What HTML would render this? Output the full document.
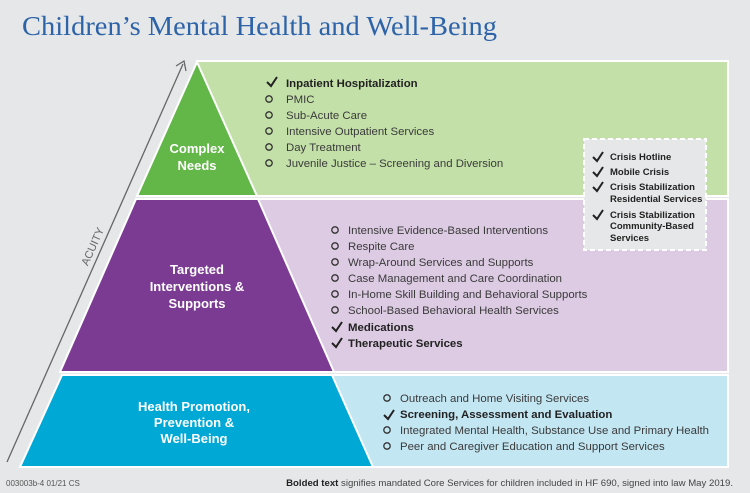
<!DOCTYPE html>
<html><head><meta charset="utf-8"><style>
html,body{margin:0;padding:0;background:#e6e7e8;}
svg{display:block;font-family:"Liberation Sans",sans-serif;}
.it{font-size:11.4px;fill:#3a3a3a;}
.b{font-weight:bold;fill:#222;}
.lab{font-size:13px;font-weight:bold;fill:#fff;text-anchor:middle;}
.cr{font-size:9.5px;font-weight:bold;fill:#222;}
</style></head><body>
<svg width="750" height="493" viewBox="0 0 750 493">
<rect width="750" height="493" fill="#e6e7e8"/>
<text x="22" y="35" font-family="Liberation Serif,serif" font-size="27" fill="#2d63a8" textLength="475" lengthAdjust="spacingAndGlyphs">Children’s Mental Health and Well-Being</text>
<rect x="197" y="61" width="531" height="135" fill="#c4e0a9" stroke="#fff" stroke-width="2"/>
<rect x="256" y="199" width="472" height="173" fill="#dccbe3" stroke="#fff" stroke-width="2"/>
<rect x="330" y="375" width="398" height="92" fill="#c3e6f3" stroke="#fff" stroke-width="2"/>
<polygon points="197,62 257,196 137,196" fill="#63b648" stroke="#fff" stroke-width="2"/>
<polygon points="136,199 258,199 334,372 60,372" fill="#7b3b93" stroke="#fff" stroke-width="2"/>
<polygon points="62,375 332,375 373,467 20,467" fill="#00a8d6" stroke="#fff" stroke-width="2"/>
<line x1="7" y1="462" x2="183" y2="64" stroke="#666" stroke-width="1.3"/>
<polyline points="176,66 184,61 186,71" fill="none" stroke="#666" stroke-width="1.3"/>
<text x="0" y="0" transform="translate(96,248) rotate(-66)" font-size="11" fill="#666" text-anchor="middle">ACUITY</text>
<text class="lab" x="197" y="153">Complex</text>
<text class="lab" x="197" y="170">Needs</text>
<text class="lab" x="197" y="274">Targeted</text>
<text class="lab" x="197" y="291">Interventions &amp;</text>
<text class="lab" x="197" y="308">Supports</text>
<text class="lab" x="194" y="411">Health Promotion,</text>
<text class="lab" x="194" y="427">Prevention &amp;</text>
<text class="lab" x="194" y="443">Well-Being</text>
<defs>
<g id="ck"><polyline points="-5,0 -1,4 5,-5" fill="none" stroke="#222" stroke-width="2"/></g>
<g id="ci"><circle r="3.2" fill="none" stroke="#333" stroke-width="1.3"/></g>
</defs>
<use href="#ck" x="272" y="82"/><text class="it b" x="286" y="87">Inpatient Hospitalization</text>
<use href="#ci" x="269" y="99"/><text class="it" x="286" y="103">PMIC</text>
<use href="#ci" x="269" y="115"/><text class="it" x="286" y="119">Sub-Acute Care</text>
<use href="#ci" x="269" y="131"/><text class="it" x="286" y="135">Intensive Outpatient Services</text>
<use href="#ci" x="269" y="147"/><text class="it" x="286" y="151">Day Treatment</text>
<use href="#ci" x="269" y="163"/><text class="it" x="286" y="167">Juvenile Justice – Screening and Diversion</text>
<rect x="584" y="139" width="122" height="111" fill="#e6e7e8" stroke="#fff" stroke-width="2" stroke-dasharray="5,3"/>
<use href="#ck" x="598" y="157"/><text class="cr" x="610" y="160">Crisis Hotline</text>
<use href="#ck" x="598" y="172"/><text class="cr" x="610" y="175">Mobile Crisis</text>
<use href="#ck" x="598" y="187"/><text class="cr" x="610" y="190">Crisis Stabilization</text>
<text class="cr" x="610" y="202">Residential Services</text>
<use href="#ck" x="598" y="215"/><text class="cr" x="610" y="218">Crisis Stabilization</text>
<text class="cr" x="610" y="229">Community-Based</text>
<text class="cr" x="610" y="241">Services</text>
<use href="#ci" x="335" y="230"/><text class="it" x="348" y="234">Intensive Evidence-Based Interventions</text>
<use href="#ci" x="335" y="246"/><text class="it" x="348" y="250">Respite Care</text>
<use href="#ci" x="335" y="262"/><text class="it" x="348" y="266">Wrap-Around Services and Supports</text>
<use href="#ci" x="335" y="278"/><text class="it" x="348" y="282">Case Management and Care Coordination</text>
<use href="#ci" x="335" y="294"/><text class="it" x="348" y="298">In-Home Skill Building and Behavioral Supports</text>
<use href="#ci" x="335" y="310"/><text class="it" x="348" y="314">School-Based Behavioral Health Services</text>
<use href="#ck" x="337" y="327"/><text class="it b" x="348" y="331">Medications</text>
<use href="#ck" x="337" y="343"/><text class="it b" x="348" y="347">Therapeutic Services</text>
<use href="#ci" x="387" y="398"/><text class="it" x="400" y="402">Outreach and Home Visiting Services</text>
<use href="#ck" x="389" y="415"/><text class="it b" x="400" y="418">Screening, Assessment and Evaluation</text>
<use href="#ci" x="387" y="430"/><text class="it" x="400" y="434">Integrated Mental Health, Substance Use and Primary Health</text>
<use href="#ci" x="387" y="446"/><text class="it" x="400" y="450">Peer and Caregiver Education and Support Services</text>
<text x="6" y="486" font-size="8" fill="#555">003003b-4  01/21  CS</text>
<text x="733" y="486" font-size="9.6" fill="#444" text-anchor="end"><tspan font-weight="bold" fill="#222">Bolded text</tspan> signifies mandated Core Services for children included in HF 690, signed into law May 2019.</text>
</svg>
</body></html>
